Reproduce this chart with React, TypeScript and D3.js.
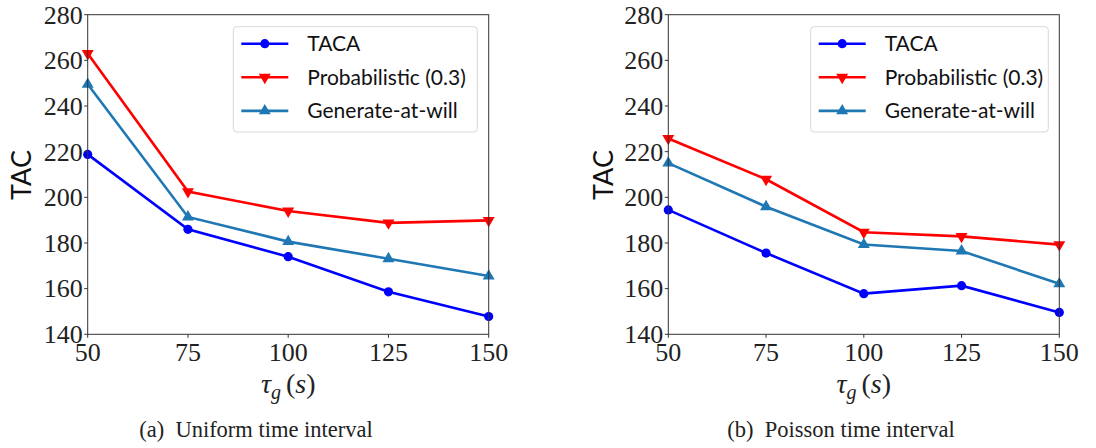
import React from 'react';
import * as d3 from 'd3';

const xValues = [50, 75, 100, 125, 150];
const yTicks = [140, 160, 180, 200, 220, 240, 260, 280];

const uniformTaca = [218.8, 186, 174, 158.6, 147.8];
const uniformProb = [263, 202.5, 194, 188.8, 189.9];
const uniformGaw = [249.5, 191.4, 180.6, 173.1, 165.5];

const poissonTaca = [194.5, 175.6, 157.8, 161.3, 149.6];
const poissonProb = [225.8, 207.9, 184.7, 182.9, 179.3];
const poissonGaw = [215, 195.9, 179.3, 176.5, 162.1];

const seriesNames = ['TACA', 'Probabilistic (0.3)', 'Generate-at-will'];
const seriesColors = ['#0000ff', '#ff0000', '#1f77b4'];
const seriesMarkers = ['circle', 'down', 'up'];

const captions = ['(a)  Uniform time interval', '(b)  Poisson time interval'];

const TOP = 14.7;
const BOTTOM = 334.3;
const SERIF = '"Liberation Serif", "DejaVu Serif", serif';
const SANS = 'Lato, "Open Sans", sans-serif';

function Marker({kind, x, y, color}) {
  if (kind === 'circle') {
    return <circle cx={x} cy={y} r={4.6} fill={color} />;
  }
  const path = d3.symbol().type(d3.symbolTriangle).size(62)();
  const rot = kind === 'down' ? 180 : 0;
  return <path d={path} fill={color} transform={`translate(${x},${y}) rotate(${rot})`} />;
}

function Panel({left, right, series, legendX, legendW, ylabelX, caption, captionX}) {
  const x = d3.scaleLinear().domain([50, 150]).range([left, right]);
  const y = d3.scaleLinear().domain([140, 280]).range([BOTTOM, TOP]);
  const line = d3.line().x((d, i) => x(xValues[i])).y(d => y(d));

  return (
    <g>
      {series.map((vals, s) => (
        <g key={s}>
          <path d={line(vals)} fill="none" stroke={seriesColors[s]} strokeWidth={2.6} />
          {vals.map((v, i) => (
            <Marker key={i} kind={seriesMarkers[s]} x={x(xValues[i])} y={y(v)} color={seriesColors[s]} />
          ))}
        </g>
      ))}
      <rect x={left} y={TOP} width={right - left} height={BOTTOM - TOP}
        fill="none" stroke="#333" strokeWidth={1} />
      {yTicks.map(t => (
        <g key={t}>
          <line x1={left - 3.5} x2={left} y1={y(t)} y2={y(t)} stroke="#333" />
          <text x={left - 5} y={y(t)} dy="0.34em" textAnchor="end"
            fontFamily={SERIF} fontSize={26} fill="#222">{t}</text>
        </g>
      ))}
      {xValues.map(t => (
        <g key={t}>
          <line x1={x(t)} x2={x(t)} y1={BOTTOM} y2={BOTTOM + 3.5} stroke="#333" />
          <text x={x(t)} y={BOTTOM + 27} textAnchor="middle"
            fontFamily={SERIF} fontSize={26} fill="#222">{t}</text>
        </g>
      ))}
      <text x={(left + right) / 2} y={393} textAnchor="middle" fontFamily={SERIF} fontSize={28} fill="#222">
        <tspan fontStyle="italic">τ</tspan>
        <tspan fontStyle="italic" fontSize={20} dy={6}>g</tspan>
        <tspan dy={-6} dx={5}>(</tspan>
        <tspan fontStyle="italic">s</tspan>
        <tspan>)</tspan>
      </text>
      <text transform={`translate(${ylabelX},175) rotate(-90)`} textAnchor="middle" dy="0.35em"
        fontFamily={SANS} fontSize={27} fill="#111">TAC</text>
      <rect x={legendX} y={26.7} width={legendW} height={105.3} rx={3.5}
        fill="#fff" fillOpacity={0.8} stroke="#d8d8d8" />
      {seriesNames.map((name, s) => {
        const ly = 43.7 + s * 33.6;
        return (
          <g key={name}>
            <line x1={legendX + 8} x2={legendX + 55} y1={ly} y2={ly}
              stroke={seriesColors[s]} strokeWidth={2.6} />
            <Marker kind={seriesMarkers[s]} x={legendX + 31.5} y={ly} color={seriesColors[s]} />
            <text x={legendX + 74} y={ly} dy="0.36em" fontFamily={SANS} fontSize={21} fill="#111">{name}</text>
          </g>
        );
      })}
      <text x={captionX} y={437} textAnchor="middle" fontFamily={SERIF} fontSize={22.5} fill="#222"
        style={{whiteSpace: 'pre'}}>{caption}</text>
    </g>
  );
}

export default function App() {
  return (
    <svg width={1096} height={448} style={{position: 'absolute', left: 0, top: 0, background: '#fff'}}>
      <rect width={1096} height={448} fill="#fff" />
      <Panel left={87.7} right={488.7} series={[uniformTaca, uniformProb, uniformGaw]}
        legendX={233.3} legendW={244} ylabelX={22} caption={captions[0]} captionX={256} />
      <Panel left={668.3} right={1059.3} series={[poissonTaca, poissonProb, poissonGaw]}
        legendX={810.7} legendW={237.6} ylabelX={604} caption={captions[1]} captionX={841} />
    </svg>
  );
}
